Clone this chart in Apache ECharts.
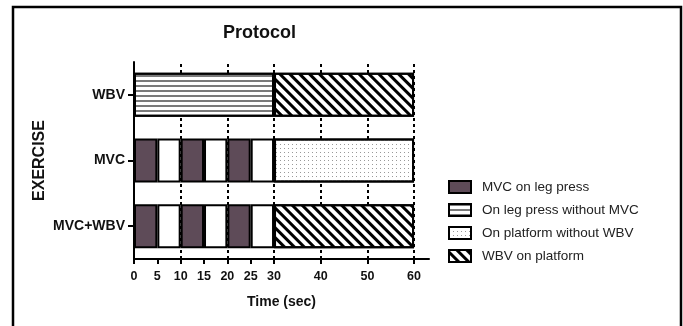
<!DOCTYPE html>
<html>
<head>
<meta charset="utf-8">
<script src="https://cdn.jsdelivr.net/npm/echarts@6/dist/echarts.min.js"></script>
<style>
  html, body { margin:0; padding:0; background:#fff; }
  #chart { width:683px; height:326px; }
</style>
</head>
<body>
<div id="chart"></div>
<script>
// categories, bottom to top
const exercises = ['MVC+WBV', 'MVC', 'WBV'];
const xTicks = [0, 5, 10, 15, 20, 25, 30, 40, 50, 60];
const gridLines = [10, 20, 30, 40, 50, 60];

// segment lengths (sec) per exercise, stacked left to right
const mvc1 = [5, 5, '-'];
const rest1 = [5, 5, '-'];
const mvc2 = [5, 5, '-'];
const rest2 = [5, 5, '-'];
const mvc3 = [5, 5, '-'];
const rest3 = [5, 5, '-'];
const legPressNoMvc = ['-', '-', 30];
const platformNoWbv = ['-', 30, '-'];
const wbvPlatform = [30, '-', 30];

const legendNames = ['MVC on leg press', 'On leg press without MVC', 'On platform without WBV', 'WBV on platform'];

const border = { borderColor:'#000', borderWidth:2 };
const styles = {
    mvc: Object.assign({ color:'#5e4b58' }, border),
    rest: Object.assign({ color:'#fff' }, border),
    legPress: Object.assign({ color:'#fff', decal:{ symbol:'rect', dashArrayX:[1,0], dashArrayY:[1.5,2.5], color:'#7a7a7a' } }, border),
    platform: Object.assign({ color:'#fff', decal:{ symbol:'rect', dashArrayX:[1,3], dashArrayY:[1,3], color:'#999' } }, border),
    wbv: Object.assign({ color:'#fff', decal:{ symbol:'rect', dashArrayX:[1,0], dashArrayY:[2.5,4], rotation:Math.PI/4, color:'#000' } }, border)
};

const segs = [
    ['MVC on leg press', mvc1, styles.mvc],
    ['rest', rest1, styles.rest],
    ['MVC on leg press', mvc2, styles.mvc],
    ['rest', rest2, styles.rest],
    ['MVC on leg press', mvc3, styles.mvc],
    ['rest', rest3, styles.rest],
    ['On leg press without MVC', legPressNoMvc, styles.legPress],
    ['On platform without WBV', platformNoWbv, styles.platform],
    ['WBV on platform', wbvPlatform, styles.wbv]
];

const font = 'Liberation Sans';
let myChart = echarts.init(document.getElementById('chart'));

let series = [{
    type:'line',
    name:'grid',
    data:[],
    z:0,
    silent:true,
    markLine:{
        silent:true,
        z:0,
        symbol:'none',
        label:{ show:false },
        lineStyle:{ color:'#000', width:2, type:[3,3] },
        data:gridLines.map(v => ({ xAxis:v }))
    }
}];
segs.forEach(s => {
    series.push({
        type:'bar',
        name:s[0],
        stack:'time',
        barWidth:44,
        z:3,
        data:s[1],
        itemStyle:s[2]
    });
});

let option = {
    animation:false,
    title:{
        text:'Protocol',
        left:218,
        top:19,
        textStyle:{ fontFamily:font, fontSize:18, fontWeight:'bold', color:'#111' }
    },
    legend:{
        data:legendNames,
        orient:'vertical',
        left:443,
        top:175,
        icon:'rect',
        itemWidth:22,
        itemHeight:12,
        itemGap:9,
        itemTextGap:10,
        textStyle:{ fontFamily:font, fontSize:13.5, color:'#222', padding:[0, 0, 0, 6] }
    },
    grid:{ left:134, right:254, top:62, bottom:67 },
    xAxis:{
        type:'value',
        min:0,
        max:63.2,
        name:'Time (sec)',
        nameLocation:'middle',
        nameGap:36,
        nameTextStyle:{ fontFamily:font, fontSize:14, fontWeight:'bold', color:'#111' },
        axisLine:{ show:true, lineStyle:{ color:'#000', width:2 } },
        axisTick:{ show:true, length:5, customValues:xTicks, lineStyle:{ color:'#000', width:2 } },
        axisLabel:{ customValues:xTicks, margin:11, fontFamily:font, fontSize:12.5, fontWeight:'bold', color:'#111' },
        splitLine:{ show:false }
    },
    yAxis:{
        type:'category',
        data:exercises,
        name:'EXERCISE',
        nameLocation:'middle',
        nameRotate:90,
        nameGap:86,
        nameTextStyle:{ fontFamily:font, fontSize:16, fontWeight:'bold', color:'#111' },
        axisLine:{ show:true, lineStyle:{ color:'#000', width:2 } },
        axisTick:{ show:true, length:6, alignWithLabel:true, lineStyle:{ color:'#000', width:2 } },
        axisLabel:{ margin:9, fontFamily:font, fontSize:14, fontWeight:'bold', color:'#111' }
    },
    graphic:[{
        type:'polyline',
        silent:true,
        shape:{ points:[[13, 326], [13, 7], [681, 7], [681, 326]] },
        style:{ stroke:'#000', lineWidth:2.5, fill:null }
    }],
    series:series
};
myChart.setOption(option);
</script>
</body>
</html>
